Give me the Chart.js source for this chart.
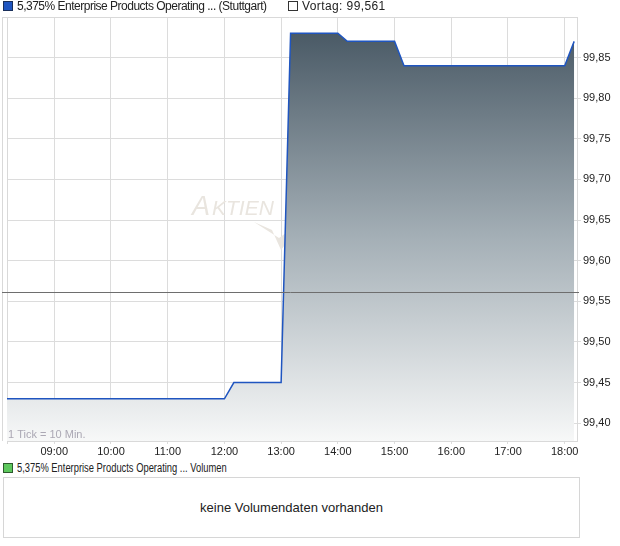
<!DOCTYPE html>
<html>
<head>
<meta charset="utf-8">
<title>5,375% Enterprise Products Operating - Intraday</title>
<script src="https://cdn.jsdelivr.net/npm/chart.js"></script>
<style>
  body { margin: 0; width: 620px; height: 546px; background: #fff; font-family: "Liberation Sans", Arial, sans-serif; color: #222; position: relative; overflow: hidden; }
  .legend { position: absolute; font-size: 12px; line-height: 14px; white-space: nowrap; }
  .box { display: inline-block; width: 8px; height: 8px; border: 1px solid #333; vertical-align: -1px; margin-right: 4px; letter-spacing: 0; }
  .narrow { display: inline-block; transform: scaleX(0.78); transform-origin: left center; }
  #chartWrap { position: absolute; left: 0; top: 0; width: 620px; height: 460px; }
  #volBox { position: absolute; left: 3px; top: 477px; width: 575px; height: 59px; border: 1px solid #d6d6d6; text-align: center; line-height: 59px; font-size: 13px; color: #222; }
</style>
</head>
<body>
<div id="chartWrap"><canvas id="kurs"></canvas></div>
<div class="legend" style="left:3px; top:-1px; letter-spacing:-0.5px;"><span class="box" style="background:#1f55c0; border-color:#1a2f5a;"></span>5,375% Enterprise Products Operating ... (Stuttgart)</div>
<div class="legend" style="left:288px; top:-1px; letter-spacing:0.4px;"><span class="box" style="background:#fff;"></span>Vortag: 99,561</div>
<div class="legend" style="left:3px; top:461px;"><span class="box" style="background:#5dc85d; border-color:#2d5a2d;"></span><span class="narrow">5,375% Enterprise Products Operating ... Volumen</span></div>
<div id="volBox">keine Volumendaten vorhanden</div>
<script>
// Zeit in Minuten ab Mitternacht (1 Tick = 10 Min.)
const zeiten = [490, 720, 730, 780, 790, 840, 850, 900, 910, 1080, 1090];
const kurse  = [99.43, 99.43, 99.45, 99.45, 99.88, 99.88, 99.87, 99.87, 99.84, 99.84, 99.87];
const vortag = 99.561;
const yTicks = [99.40, 99.45, 99.50, 99.55, 99.60, 99.65, 99.70, 99.75, 99.80, 99.85];
const xTicks = [540, 600, 660, 720, 780, 840, 900, 960, 1020, 1080];

const fmtZeit = m => String(Math.floor(m / 60)).padStart(2, '0') + ':' + String(m % 60).padStart(2, '0');

const extras = {
  id: 'extras',
  beforeDatasetsDraw(chart) {
    const { ctx, chartArea: a } = chart;
    ctx.save();
    // Rahmen oben und links
    ctx.strokeStyle = '#d9d9d9';
    ctx.lineWidth = 1;
    ctx.beginPath();
    ctx.moveTo(2.5, a.top + 0.5); ctx.lineTo(a.right, a.top + 0.5);
    ctx.moveTo(2.5, a.top); ctx.lineTo(2.5, a.bottom);
    ctx.moveTo(a.left + 0.5, a.top); ctx.lineTo(a.left + 0.5, a.bottom + 3);
    ctx.stroke();
    // Wasserzeichen
    ctx.fillStyle = '#e9e5df';
    ctx.textBaseline = 'alphabetic';
    ctx.font = 'italic 27px "Liberation Sans", Arial, sans-serif';
    ctx.fillText('A', 192, 215);
    ctx.font = 'italic 21px "Liberation Sans", Arial, sans-serif';
    ctx.fillText('KTIEN', 212, 215);
    ctx.beginPath();
    ctx.moveTo(254, 222); ctx.lineTo(272, 230); ctx.lineTo(281, 250);
    ctx.lineTo(304, 220); ctx.lineTo(279, 238); ctx.closePath();
    ctx.fill();
    ctx.restore();
  },
  afterDatasetsDraw(chart) {
    const { ctx, chartArea: a, scales } = chart;
    const y = Math.round(scales.y.getPixelForValue(vortag)) + 0.5;
    ctx.save();
    ctx.strokeStyle = '#6e6e6e';
    ctx.lineWidth = 1;
    ctx.beginPath();
    ctx.moveTo(2, y); ctx.lineTo(a.right + 2, y);
    ctx.stroke();
    // Hinweis
    ctx.fillStyle = '#aba8b4';
    ctx.font = '11px "Liberation Sans", Arial, sans-serif';
    ctx.textBaseline = 'alphabetic';
    ctx.fillText('1 Tick = 10 Min.', a.left + 1, a.bottom - 3);
    ctx.restore();
  }
};

new Chart(document.getElementById('kurs'), {
  type: 'line',
  data: {
    datasets: [{
      data: zeiten.map((t, i) => ({ x: t, y: kurse[i] })),
      borderColor: '#1f55c0',
      borderWidth: 1.5,
      pointRadius: 0,
      tension: 0,
      fill: 'start',
      backgroundColor(c) {
        const a = c.chart.chartArea;
        if (!a) return '#8090a0';
        const top = c.chart.scales.y.getPixelForValue(Math.max(...kurse));
        const g = c.chart.ctx.createLinearGradient(0, top, 0, a.bottom);
        g.addColorStop(0, '#4a5a66');
        g.addColorStop(0.5, '#a4afb6');
        g.addColorStop(1, '#f7f8f8');
        return g;
      }
    }]
  },
  options: {
    responsive: true,
    maintainAspectRatio: false,
    animation: false,
    layout: { padding: { left: 7, top: 17, right: 0, bottom: 0 } },
    plugins: { legend: { display: false }, tooltip: { enabled: false } },
    scales: {
      x: {
        type: 'linear',
        min: 490,
        max: 1093,
        afterBuildTicks: s => { s.ticks = xTicks.map(v => ({ value: v })); },
        afterFit: s => { s.height = 19; },
        grid: { color: '#dcdcdc', tickLength: 3, drawTicks: true },
        border: { color: '#d9d9d9' },
        ticks: {
          callback: v => fmtZeit(v),
          color: '#222',
          font: { family: '"Liberation Sans", Arial, sans-serif', size: 11 },
          padding: 1,
          maxRotation: 0
        }
      },
      y: {
        position: 'right',
        min: 99.378,
        max: 99.9,
        afterBuildTicks: s => { s.ticks = yTicks.map(v => ({ value: v })); },
        afterFit: s => { s.width = 43; },
        grid: { color: '#dcdcdc', tickLength: 4 },
        border: { color: '#d9d9d9' },
        ticks: {
          callback: v => v.toFixed(2).replace('.', ','),
          color: '#222',
          font: { family: '"Liberation Sans", Arial, sans-serif', size: 11 },
          padding: 2
        }
      }
    }
  },
  plugins: [extras]
});
</script>
</body>
</html>
